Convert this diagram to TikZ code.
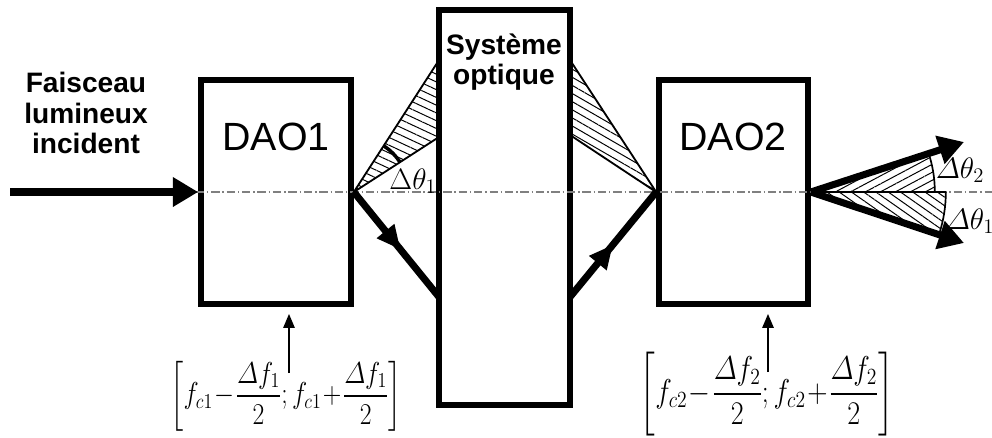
\RequirePackage{fix-cm}
\documentclass[tikz,border=0pt]{standalone}
\usepackage{amsmath}
\usepackage[no-math]{fontspec}
\newfontfamily\arial{Liberation Sans}
\usetikzlibrary{arrows.meta,patterns.meta,decorations.markings}

\begin{document}
\begin{tikzpicture}[x=0.025cm,y=-0.025cm,
    bloc/.style={draw, line width=4pt, inner sep=0pt},
    faisceau/.style={line width=5pt},
    pointe/.style={-{Triangle[length=18pt,width=20pt]}},
    milieu/.style={postaction={decorate},
        decoration={markings, mark=at position #1 with {\arrow{Triangle[length=17pt,width=15pt]}}}},
    hachure/.style={draw, line width=1.3pt,
        pattern={Lines[angle=#1, distance=5pt, line width=0.7pt]}},
    axe/.style={gray, line width=0.8pt, dash pattern=on 6pt off 2pt on 1pt off 2pt},
    titre/.style={font=\arial\bfseries\fontsize{20}{21.5}\selectfont, align=center},
    dao/.style={font=\arial\fontsize{28}{30}\selectfont},
    ecart/.style={font=\fontsize{21}{24}\selectfont, inner sep=0pt},
    commande/.style={line width=1.5pt, shorten >=5pt, -{Triangle[length=10pt,width=8pt]}},
    formule/.style={font=\fontsize{#1}{24}\selectfont, inner sep=0pt}
]
\useasboundingbox (0,0) rectangle (992,437);

% ---- blocks ----
\node[bloc, minimum width=3.75cm, minimum height=5.6cm] (dao1) at (276,192) {};
\node[bloc, minimum width=3.275cm, minimum height=9.875cm] (sys) at (504.5,207.5) {};
\node[bloc, minimum width=3.725cm, minimum height=5.6cm] (dao2) at (733.5,192) {};

\node[dao] (nom1) at (276,137) {DAO1};
\node[dao] (nom2) at (733,137) {DAO2};
\node[titre] (systeme) at (504,62) {Système\\optique};
\node[titre] (faisceau) at (86,113) {Faisceau\\lumineux\\incident};

% ---- optical axis ----
\coordinate (gauche) at (10,192);
\coordinate (droite) at (992,192);
\draw[axe] (gauche) -- (droite);

% ---- incident beam ----
\draw[faisceau, pointe] (gauche) -- (dao1.west);

% ---- deflection cones around the optical system ----
\draw[hachure=-25] (dao1.east) -- (439,60) -- (439,137) -- cycle;
\draw[hachure=-30] (dao2.west) -- (570,60) -- (570,135) -- cycle;
\draw[line width=2.5pt] (dao1.east) ++(-56.9:55) arc[start angle=-56.9, end angle=-32.6, radius=55];
\node[ecart] (dt0) at (413,181) {$\Delta\theta_1$};

% ---- deflected beam through the system ----
\coordinate (s1) at (439,297);
\coordinate (s2) at (570,297);
\draw[faisceau, milieu=0.55] (dao1.east) -- (s1);
\draw[faisceau, milieu=0.5] (s2) -- (dao2.west);

% ---- output fan ----
\coordinate (haut) at (964,142);
\coordinate (bas) at (964,243);
\path[pattern={Lines[angle=28, distance=5pt, line width=0.7pt]}]
    (dao2.east) -- ++(-18:124) arc[start angle=-18, end angle=0, radius=124] -- cycle;
\path[pattern={Lines[angle=-35, distance=5pt, line width=0.7pt]}]
    (dao2.east) -- ++(18:135) arc[start angle=18, end angle=0, radius=135] -- cycle;
\draw[line width=1.2pt] (dao2.east) ++(-18:124) arc[start angle=-18, end angle=0, radius=124];
\draw[line width=1.2pt] (dao2.east) ++(18:135) arc[start angle=18, end angle=0, radius=135];
\draw[line width=1.2pt] (dao2.east) -- ++(135,0);
\draw[faisceau, pointe] (dao2.east) -- (haut);
\draw[faisceau, pointe] (dao2.east) -- (bas);
\node[ecart] (dt2) at (960,170) {$\varDelta\theta_2$};
\node[ecart] (dt1) at (970,221) {$\varDelta\theta_1$};

% ---- frequency ranges ----
\node[formule=21.5] (plage1) at (286,396)
    {\scalebox{0.85}[1]{$\medmuskip=1mu\left[f_{c1}-\dfrac{\varDelta f_1}{2};f_{c1}+\dfrac{\varDelta f_1}{2}\right]$}};
\node[formule=23.5] (plage2) at (767,394)
    {\scalebox{0.85}[1]{$\medmuskip=1mu\left[f_{c2}-\dfrac{\varDelta f_2}{2};f_{c2}+\dfrac{\varDelta f_2}{2}\right]$}};
\coordinate (c1) at (289,373);
\coordinate (c2) at (768,372);
\draw[commande] (c1) -- (c1 |- dao1.south);
\draw[commande] (c2) -- (c2 |- dao2.south);
\end{tikzpicture}
\end{document}
